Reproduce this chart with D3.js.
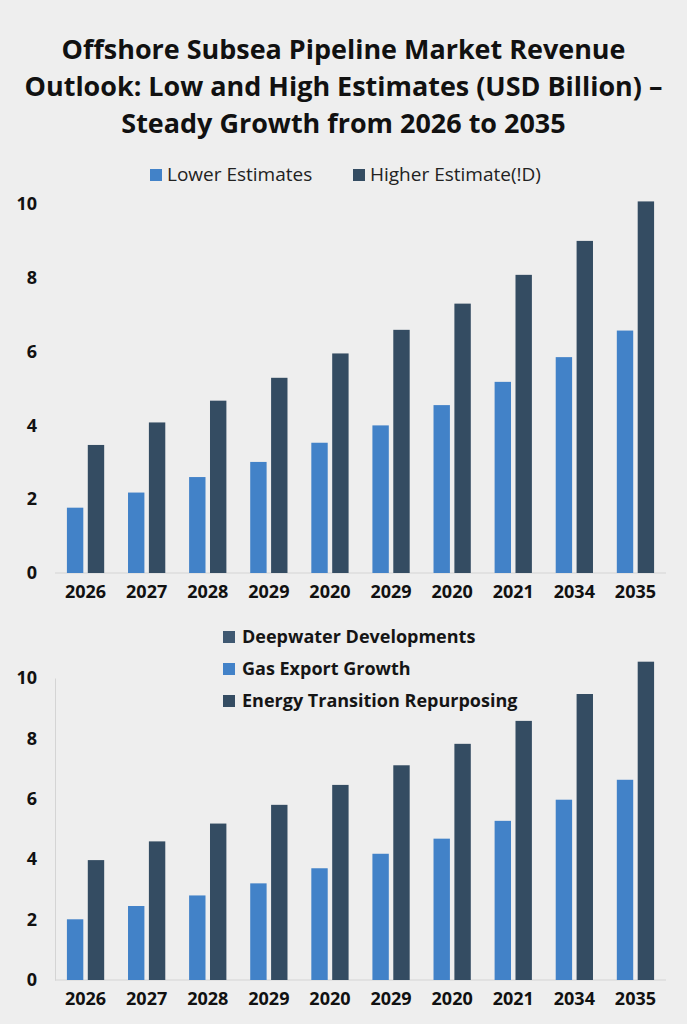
<!DOCTYPE html>
<html>
<head>
<meta charset="utf-8">
<script src="https://cdn.jsdelivr.net/npm/d3@7"></script>
<style>
  body { margin: 0; background: #eeeeee; }
  svg { display: block; font-family: "Open Sans", "Noto Sans", sans-serif; }
  .tick text { fill: #111; font-weight: bold; }
</style>
</head>
<body>
<div id="chart"></div>
<script>
// categories as printed on the chart (labels repeat, so bars are keyed by index)
var years = ["2026", "2027", "2028", "2029", "2020", "2029", "2020", "2021", "2034", "2035"];
var yTicks = [0, 2, 4, 6, 8, 10];

// top panel
var lowerEstimates = [1.77, 2.18, 2.6, 3.01, 3.53, 4.0, 4.55, 5.18, 5.85, 6.57];
var higherEstimates = [3.47, 4.08, 4.67, 5.29, 5.95, 6.59, 7.3, 8.08, 9.0, 10.07];

// bottom panel
var gasExport = [2.01, 2.45, 2.8, 3.2, 3.7, 4.18, 4.68, 5.27, 5.97, 6.63];
var energyTransition = [3.97, 4.59, 5.18, 5.8, 6.46, 7.11, 7.82, 8.58, 9.47, 10.54];

var titleLines = [
    "Offshore Subsea Pipeline Market Revenue",
    "Outlook: Low and High Estimates (USD Billion) \u2013",
    "Steady Growth from 2026 to 2035"
];
var topLegend = ["Lower Estimates", "Higher Estimate(!D)"];
var bottomLegend = ["Deepwater Developments", "Gas Export Growth", "Energy Transition Repurposing"];

var W = 687, H = 1024;
var light = "#4282c8", dark = "#344c62", mid = "#3f5871";
var font = '"Open Sans", "Noto Sans", sans-serif';

var svg = d3.select("#chart").append("svg")
    .attr("width", W)
    .attr("height", H);

svg.append("rect").attr("width", W).attr("height", H).attr("fill", "#eeeeee");

// title, sized so the widest line fills its width in the reference
var title = svg.append("g");
var tl = title.selectAll("text")
    .data(titleLines)
    .enter()
    .append("text")
    .attr("x", W / 2)
    .attr("y", function (d, i) { return 59 + i * 37; })
    .attr("text-anchor", "middle")
    .attr("font-weight", "bold")
    .attr("font-size", 24)
    .attr("fill", "#111")
    .text(function (d) { return d; });
var w2 = tl.nodes()[1].getComputedTextLength();
tl.attr("font-size", 24 * 638 / w2);

// top legend
var tLeg = svg.append("g").attr("font-size", 19).attr("fill", "#222");
[[150, light], [353, dark]].forEach(function (p, i) {
    tLeg.append("rect").attr("x", p[0]).attr("y", 169).attr("width", 12).attr("height", 12).attr("fill", p[1]);
    tLeg.append("text").attr("x", p[0] + 17).attr("y", 181).text(topLegend[i]);
});

// bottom legend
var bLeg = svg.append("g").attr("font-size", 18).attr("font-weight", "bold").attr("fill", "#151515");
[mid, light, dark].forEach(function (c, i) {
    var y = 637 + i * 32;
    bLeg.append("rect").attr("x", 223).attr("y", y - 6).attr("width", 12).attr("height", 12).attr("fill", c);
    bLeg.append("text").attr("x", 242).attr("y", y + 6).text(bottomLegend[i]);
});

function panel(opt) {
    var idx = d3.range(years.length);
    var x0 = d3.scaleBand()
        .domain(idx)
        .range([55, 666])
        .paddingInner(0.39)
        .paddingOuter(0.195);
    var x1 = d3.scaleBand()
        .domain([0, 1])
        .range([0, x0.bandwidth()])
        .paddingInner(0.215);
    var y = d3.scaleLinear().domain([0, 10]).range([opt.base, opt.top]);

    var g = svg.append("g");

    // y axis
    var ya = g.append("g")
        .attr("transform", "translate(55,0)")
        .call(d3.axisLeft(y).tickValues(yTicks).tickSize(0).tickPadding(18))
        .attr("font-family", font)
        .attr("font-size", 18);
    if (opt.yLine) {
        ya.select(".domain").attr("stroke", "#d4d4d4").attr("stroke-width", 1);
    } else {
        ya.select(".domain").remove();
    }

    // baseline
    g.append("line")
        .attr("x1", 55).attr("x2", 666)
        .attr("y1", y(0)).attr("y2", y(0))
        .attr("stroke", "#d4d4d4");

    var groups = g.selectAll(".grp")
        .data(idx)
        .enter()
        .append("g")
        .attr("class", "grp")
        .attr("transform", function (i) { return "translate(" + x0(i) + ",0)"; });

    groups.selectAll("rect")
        .data(function (i) { return [opt.a[i], opt.b[i]]; })
        .enter()
        .append("rect")
        .attr("x", function (d, j) { return x1(j); })
        .attr("width", x1.bandwidth())
        .attr("y", function (d) { return y(d); })
        .attr("height", function (d) { return y(0) - y(d); })
        .attr("fill", function (d, j) { return j === 0 ? light : dark; });

    // x axis
    var xa = g.append("g")
        .attr("transform", "translate(0," + y(0) + ")")
        .call(d3.axisBottom(x0).tickSize(0).tickPadding(12).tickFormat(function (i) { return years[i]; }))
        .attr("font-family", font)
        .attr("font-size", 18);
    xa.select(".domain").remove();
}

panel({ a: lowerEstimates, b: higherEstimates, base: 573, top: 204, yLine: false });
panel({ a: gasExport, b: energyTransition, base: 980, top: 678, yLine: true });
</script>
</body>
</html>
